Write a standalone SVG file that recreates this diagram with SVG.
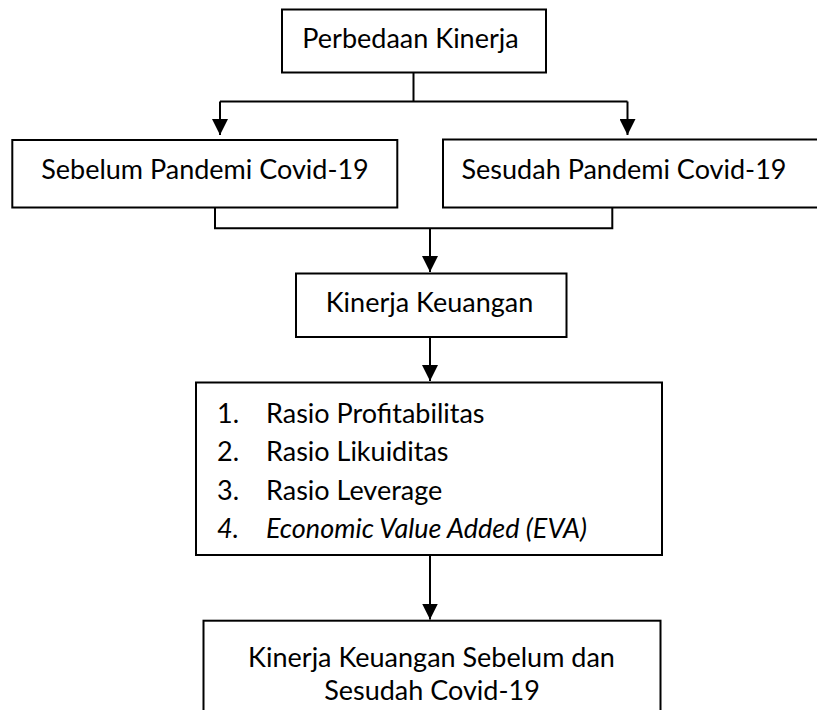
<svg xmlns="http://www.w3.org/2000/svg" width="817" height="710" viewBox="0 0 817 710">
<style>
.box{fill:#fff;stroke:#000;stroke-width:2}
.ln{fill:none;stroke:#000;stroke-width:2}
.t{font-family:Lato,"Open Sans","Liberation Sans",sans-serif;font-size:27px;fill:#000}
.c{text-anchor:middle}
.i{font-style:italic}
</style>
<defs>
<marker id="ah" markerUnits="userSpaceOnUse" markerWidth="16" markerHeight="16" viewBox="0 0 15 15" refX="15" refY="7.5" orient="auto">
<path d="M0,0 L15,7.5 L0,15 z" fill="#000"/>
</marker>
</defs>
<rect width="817" height="710" fill="#fff"/>
<g id="connectors">
<path class="ln" d="M413.5,72.7 V101.5"/>
<path class="ln" d="M220,101.5 H627.5"/>
<path class="ln" d="M220,101.5 V135" marker-end="url(#ah)"/>
<path class="ln" d="M627.5,101.5 V135" marker-end="url(#ah)"/>
<path class="ln" d="M215,207.5 V228.3 H612.3 V207.5"/>
<path class="ln" d="M430,228.3 V272" marker-end="url(#ah)"/>
<path class="ln" d="M430,337 V381" marker-end="url(#ah)"/>
<path class="ln" d="M430,555 V619.5" marker-end="url(#ah)"/>
</g>
<g id="node-perbedaan">
<rect class="box" x="282" y="9.5" width="264" height="63"/>
<text class="t c" x="410.5" y="48">Perbedaan Kinerja</text>
</g>
<g id="node-sebelum">
<rect class="box" x="12.3" y="140" width="385" height="67.5"/>
<text class="t c" x="205" y="179">Sebelum Pandemi Covid-19</text>
</g>
<g id="node-sesudah">
<rect class="box" x="443" y="139.5" width="390" height="68"/>
<text class="t c" x="624" y="179">Sesudah Pandemi Covid-19</text>
</g>
<g id="node-kinerja-keuangan">
<rect class="box" x="296" y="273.5" width="270.5" height="63.5"/>
<text class="t c" x="429.5" y="312">Kinerja Keuangan</text>
</g>
<g id="node-rasio">
<rect class="box" x="196" y="382.5" width="466" height="172.5"/>
<text class="t" x="217" y="422.5">1.</text><text class="t" x="266" y="422.5">Rasio Profitabilitas</text>
<text class="t" x="217" y="461">2.</text><text class="t" x="266" y="461">Rasio Likuiditas</text>
<text class="t" x="217" y="499.5">3.</text><text class="t" x="266" y="499.5">Rasio Leverage</text>
<text class="t i" x="217" y="538">4.</text><text class="t i" x="266" y="538">Economic Value Added (EVA)</text>
</g>
<g id="node-hasil">
<rect class="box" x="203.5" y="620.7" width="457" height="100"/>
<text class="t c" x="431.5" y="667">Kinerja Keuangan Sebelum dan</text>
<text class="t c" x="432" y="700">Sesudah Covid-19</text>
</g>
</svg>
